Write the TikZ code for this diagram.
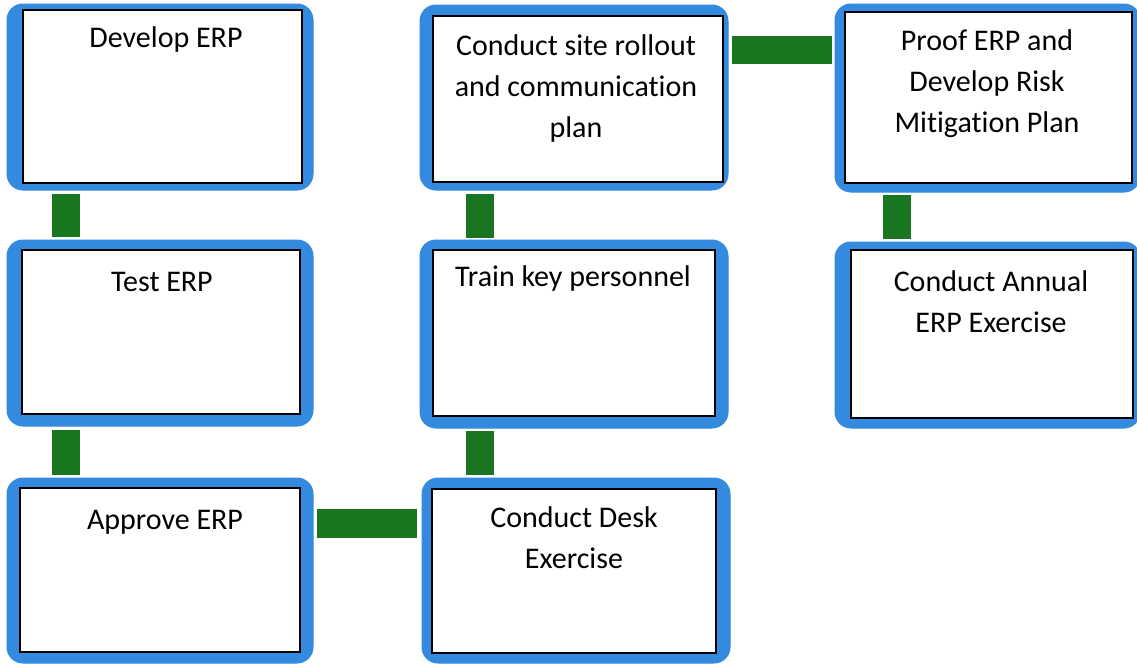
\documentclass[tikz,border=0pt]{standalone}
\usepackage{fontspec}
\setmainfont[Ligatures={NoCommon,NoContextual}]{Carlito}
\usetikzlibrary{fit}
\definecolor{frameblue}{RGB}{52,138,222}
\definecolor{linkgreen}{RGB}{24,118,32}
\begin{document}
\begin{tikzpicture}[x=1pt,y=-1pt,
  frame/.style={fill=frameblue, draw=frameblue, line width=1pt, rounded corners=16pt, inner sep=0pt},
  panel/.style={fill=white, draw=black, line width=1.6pt, inner sep=0pt},
  caption/.style={font=\fontsize{30}{41}\selectfont, align=center, anchor=base, inner sep=0pt},
  vbar/.style={draw=linkgreen, line width=27.5pt},
  hbar/.style={draw=linkgreen, line width=28.5pt}]
\useasboundingbox (0,0) rectangle (1137,664);
\fill[white] (0,0) rectangle (1137,664);

% left column (caption positions give the baseline of the last line)
\node[frame, fit={(7,4) (313,190)}] (dev) {};
\node[panel, fit={(23,10) (302,183)}] (devin) {};
\node[caption] (devtxt) at (166,47) {Develop ERP};

\node[frame, fit={(7,240) (313,426)}] (test) {};
\node[panel, fit={(22,250) (300,414)}] (testin) {};
\node[caption] (testtxt) at (162,291) {Test ERP};

\node[frame, fit={(7,478) (313,663)}] (appr) {};
\node[panel, fit={(20,488) (300,652)}] (apprin) {};
\node[caption] (apprtxt) at (165,529) {Approve ERP};

% middle column
\node[frame, fit={(420,5) (728,190)}] (roll) {};
\node[panel, fit={(433,16) (723,182)}] (rollin) {};
\node[caption] (rolltxt) at (576,137) {Conduct site rollout\\and communication\\plan};

\node[frame, fit={(420,240) (728,428)}] (train) {};
\node[panel, fit={(433,250) (715,416)}] (trainin) {};
\node[caption] (traintxt) at (573,286) {Train key personnel};

\node[frame, fit={(422,478) (730,663)}] (desk) {};
\node[panel, fit={(432,489) (716,653)}] (deskin) {};
\node[caption] (desktxt) at (574,568) {Conduct Desk\\Exercise};

% right column
\node[frame, fit={(835,4) (1140,192)}] (proof) {};
\node[panel, fit={(845,12) (1132,183)}] (proofin) {};
\node[caption] (prooftxt) at (987,132) {Proof ERP and\\Develop Risk\\Mitigation Plan};

\node[frame, fit={(835,242) (1140,428)}] (annual) {};
\node[panel, fit={(851,250) (1133,418)}] (annualin) {};
\node[caption] (annualtxt) at (991,332) {Conduct Annual\\ERP Exercise};

% green links
\draw[vbar] ([shift={(59.5,3)}]dev.south west) -- ([shift={(59.5,-3)}]test.north west);
\draw[vbar] ([shift={(59.5,3)}]test.south west) -- ([shift={(59.5,-3)}]appr.north west);
\draw[hbar] ([shift={(3.5,46)}]appr.north east) -- ([shift={(-4.5,46)}]desk.north west);
\draw[vbar] ([shift={(58.5,-3)}]desk.north west) -- ([shift={(60.5,2)}]train.south west);
\draw[vbar] ([shift={(60.5,-2)}]train.north west) -- ([shift={(60.5,3)}]roll.south west);
\draw[hbar] ([shift={(3.5,45.5)}]roll.north east) -- ([shift={(-2.5,46.5)}]proof.north west);
\draw[vbar] ([shift={(62.5,2.5)}]proof.south west) -- ([shift={(62.5,-2.5)}]annual.north west);
\end{tikzpicture}
\end{document}
